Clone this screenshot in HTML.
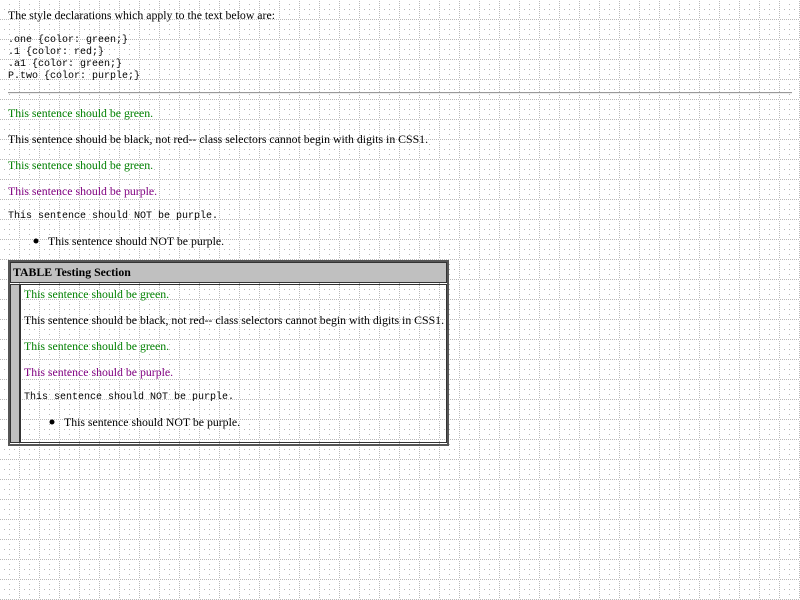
<!DOCTYPE html>
<html><head><style>
html,body{margin:0;padding:0;width:800px;height:600px;overflow:hidden;background:#fff;}
#bg{position:absolute;left:0;top:0}
.t{position:absolute;font-family:"Liberation Serif",serif;font-size:11.8px;white-space:nowrap;line-height:18px;color:#000}
.m{position:absolute;font-family:"Liberation Mono",monospace;font-size:10px;white-space:pre;line-height:12px;color:#000}
.g{color:green}.p{color:purple}
</style></head><body>
<svg id="bg" width="800" height="600">
<defs>
<pattern id="pt" width="20" height="20" patternUnits="userSpaceOnUse">
<g fill="#b8b8b8">
<rect x="0" y="19" width="1" height="1"/><rect x="2" y="19" width="1" height="1"/><rect x="4" y="19" width="1" height="1"/><rect x="6" y="19" width="1" height="1"/><rect x="8" y="19" width="1" height="1"/><rect x="10" y="19" width="1" height="1"/><rect x="12" y="19" width="1" height="1"/><rect x="14" y="19" width="1" height="1"/><rect x="16" y="19" width="1" height="1"/><rect x="18" y="19" width="1" height="1"/>
<rect x="19" y="1" width="1" height="1"/><rect x="19" y="3" width="1" height="1"/><rect x="19" y="5" width="1" height="1"/><rect x="19" y="7" width="1" height="1"/><rect x="19" y="9" width="1" height="1"/><rect x="19" y="11" width="1" height="1"/><rect x="19" y="13" width="1" height="1"/><rect x="19" y="15" width="1" height="1"/><rect x="19" y="17" width="1" height="1"/>
<rect x="9" y="9" width="1" height="1"/><rect x="4" y="9" width="1" height="1"/><rect x="9" y="4" width="1" height="1"/><rect x="14" y="9" width="1" height="1"/><rect x="9" y="14" width="1" height="1"/>
</g>
</pattern>
</defs>
<rect width="800" height="600" fill="url(#pt)"/>
<line x1="8" y1="92.5" x2="792" y2="92.5" stroke="#999" stroke-width="1"/>
<line x1="8" y1="93.5" x2="792" y2="93.5" stroke="#eee" stroke-width="1"/>
<rect x="9" y="261" width="439" height="184" fill="none" stroke="#555" stroke-width="2"/>
<rect x="10.5" y="262.5" width="436" height="20" fill="#c0c0c0" stroke="#333" stroke-width="1"/>
<rect x="10.5" y="284.5" width="9" height="158" fill="#c0c0c0" stroke="#333" stroke-width="1"/>
<rect x="20.5" y="284.5" width="426" height="158" fill="none" stroke="#333" stroke-width="1"/>
<circle cx="36" cy="241" r="2.5" fill="#000"/>
<circle cx="52" cy="422" r="2.5" fill="#000"/>
</svg>
<div class="t" style="left:8px;top:6px">The style declarations which apply to the text below are:</div>
<div class="m" style="left:8px;top:35px">.one {color: green;}
.1 {color: red;}
.a1 {color: green;}
P.two {color: purple;}</div>
<div class="t g" style="left:8px;top:104px">This sentence should be green.</div>
<div class="t" style="left:8px;top:130px">This sentence should be black, not red-- class selectors cannot begin with digits in CSS1.</div>
<div class="t g" style="left:8px;top:156px">This sentence should be green.</div>
<div class="t p" style="left:8px;top:182px">This sentence should be purple.</div>
<div class="m" style="left:8px;top:211px">This sentence should NOT be purple.</div>
<div class="t" style="left:48px;top:232px">This sentence should NOT be purple.</div>
<div class="t" style="left:13px;top:263px;font-weight:bold">TABLE Testing Section</div>
<div class="t g" style="left:24px;top:285px">This sentence should be green.</div>
<div class="t" style="left:24px;top:311px">This sentence should be black, not red-- class selectors cannot begin with digits in CSS1.</div>
<div class="t g" style="left:24px;top:337px">This sentence should be green.</div>
<div class="t p" style="left:24px;top:363px">This sentence should be purple.</div>
<div class="m" style="left:24px;top:392px">This sentence should NOT be purple.</div>
<div class="t" style="left:64px;top:413px">This sentence should NOT be purple.</div>
</body></html>
